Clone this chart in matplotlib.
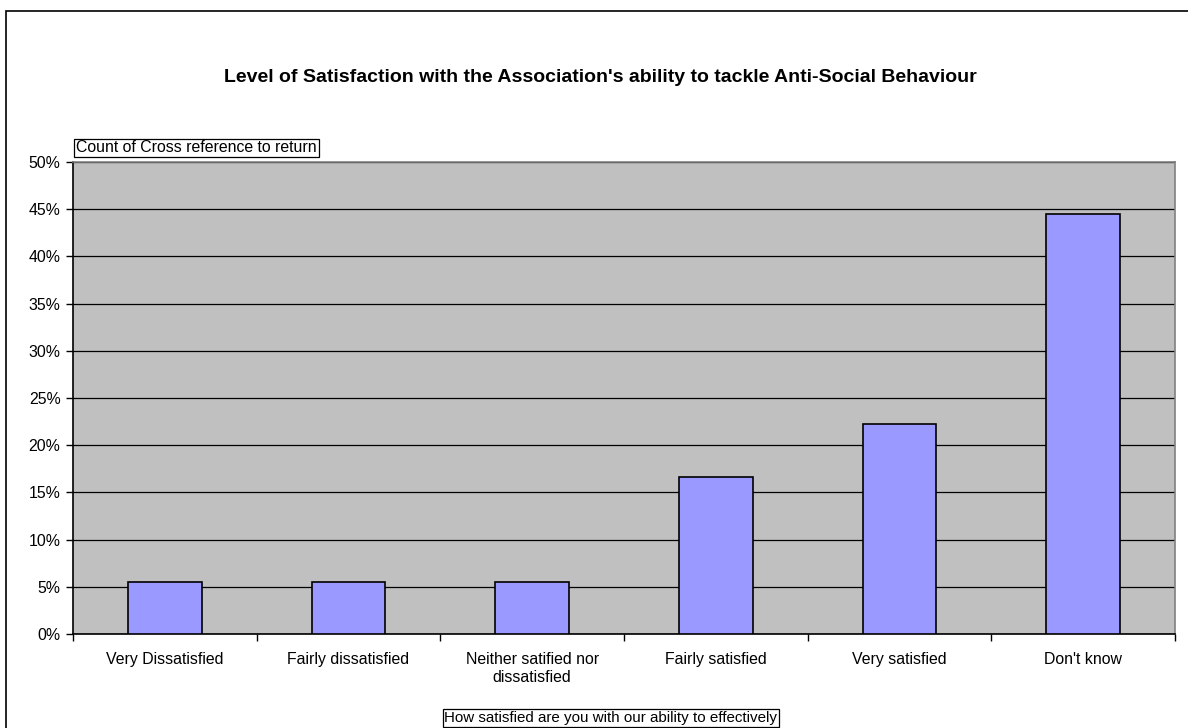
import matplotlib.pyplot as plt
from matplotlib.patches import Rectangle
from matplotlib.ticker import MultipleLocator, PercentFormatter

plt.rcParams['font.family'] = ['Liberation Sans', 'DejaVu Sans']

categories = ["Very Dissatisfied", "Fairly dissatisfied", "Neither satified nor\ndissatisfied",
              "Fairly satisfied", "Very satisfied", "Don't know"]
counts = [1, 1, 1, 3, 4, 8]
total = sum(counts)
shares = [c / total * 100 for c in counts]

fig = plt.figure(figsize=(11.88, 7.28), dpi=100)

# chart area frame, cut off at right and bottom
fig.patches.append(Rectangle((6 / 1188, -0.01), 1.05, 1 - 11 / 728 + 0.01,
                             transform=fig.transFigure, fill=False,
                             edgecolor='black', linewidth=1.2))

ax = fig.add_axes([73 / 1188, 1 - 634 / 728, (1175 - 73) / 1188, (634 - 162) / 728])
ax.set_facecolor('#c0c0c0')

x = range(len(categories))
ax.bar(x, shares, width=0.4, color='#9999ff', edgecolor='black', linewidth=1.2, zorder=3)

ax.set_xlim(-0.5, len(categories) - 0.5)
ax.set_ylim(0, 50)
ax.yaxis.set_major_locator(MultipleLocator(5))
ax.yaxis.set_major_formatter(PercentFormatter(decimals=0))
ax.grid(True, axis='y', color='black', linewidth=0.9, zorder=1)

ax.set_xticks([i - 0.5 for i in range(len(categories) + 1)], minor=False)
ax.set_xticklabels([])
ax.set_xticks(list(x), minor=True)
ax.set_xticklabels(categories, minor=True, fontsize=11.4, linespacing=1.25)
ax.tick_params(axis='x', which='minor', length=0, pad=13)
ax.tick_params(axis='x', which='major', length=5, width=1, direction='out')
ax.tick_params(axis='y', length=5, width=1, direction='out', labelsize=11.4, pad=4)

for s in ['top', 'right']:
    ax.spines[s].set_color('#808080')
    ax.spines[s].set_linewidth(1.2)
for s in ['left', 'bottom']:
    ax.spines[s].set_color('black')
    ax.spines[s].set_linewidth(1.2)

fig.text(600 / 1188, 1 - 78 / 728, "Level of Satisfaction with the Association's ability to tackle Anti-Social Behaviour",
         ha='center', va='center', fontsize=14, fontweight='bold')

box = dict(boxstyle='square,pad=0.12', facecolor='white', edgecolor='black', linewidth=0.9)
fig.text(76 / 1188, 1 - 148 / 728, "Count of Cross reference to return",
         ha='left', va='center', fontsize=11.4, bbox=box)
fig.text(611 / 1188, 1 - 718 / 728, "How satisfied are you with our ability to effectively",
         ha='center', va='center', fontsize=10.9, bbox=box)

fig.savefig("out.png", dpi=100)
